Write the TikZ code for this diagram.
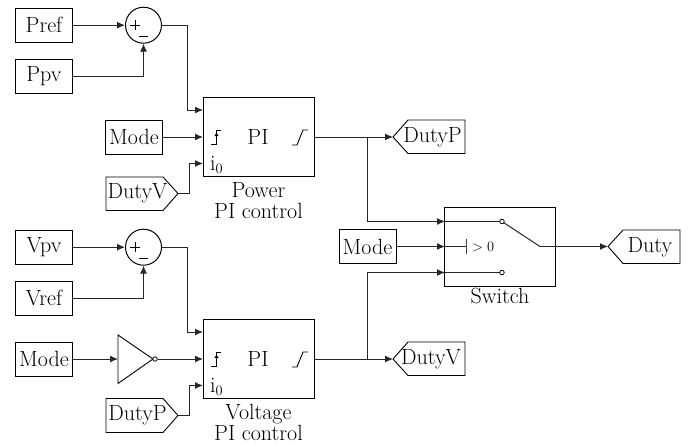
\documentclass[tikz,border=0pt]{standalone}
\usetikzlibrary{arrows.meta}
\tikzset{
  x=1pt,y=-1pt,
  lbl/.style={inner sep=0pt,font=\fontsize{22}{25}\selectfont},
  srcbox/.style={draw,line width=0.9pt,rectangle,minimum width=57pt,minimum height=34pt,inner sep=0pt,font=\fontsize{22}{25}\selectfont},
  block/.style={draw,line width=0.9pt,rectangle,minimum width=111pt,minimum height=79pt,inner sep=0pt},
  sumc/.style={draw,line width=1pt,circle,minimum size=36pt,inner sep=0pt},
  wire/.style={line width=1pt,draw=black!85},
  arr/.style={wire,-{Latex[length=8pt,width=7pt]}},
  icon/.style={line width=0.9pt},
  tag/.style={line width=0.9pt,draw},
  bub/.style={draw,line width=0.8pt,circle,minimum size=4.5pt,inner sep=0pt,fill=white},
}
\begin{document}
\begin{tikzpicture}
\useasboundingbox (0,0) rectangle (688,445);
% --- top
\node[srcbox] (pref) at (44,25.2) {Pref};
\node[srcbox] (ppv) at (44,76.5) {Ppv};
\node[sumc] (s1) at (143.5,25.2) {};
\draw[line width=1pt] (130,25) -- (140,25) (135,20) -- (135,30) (139,36) -- (148,36);
\node[block] (b1) at (258.5,137) {};
\coordinate (b1a) at (203,110);
\coordinate (b1b) at (203,137);
\coordinate (b1c) at (203,163.5);
\coordinate (b1o) at (314,137);
\node[srcbox] (m1) at (134,137) {Mode};
\draw[tag] (106,177) -- (163,177) -- (178,193.5) -- (163,210.5) -- (106,210.5) -- cycle;
\node[lbl] (dv1) at (137.5,193.5) {DutyV};
\coordinate (dv1t) at (178,193.5);
\node[lbl,align=center] (c1) at (258.5,203) {\strut Power\\[-4pt]\strut PI control};
\draw[icon] (211,144.5) -- (216.5,144.5) -- (216.5,130) -- (221,130);
\draw[icon,-{Latex[length=4pt,width=4.5pt]}] (216.5,142) -- (216.5,132);
\node[lbl] (pi1) at (258,137) {PI};
\draw[icon] (292,145) -- (297,145) -- (303,130) -- (308,130);
\node[lbl,anchor=west] (i1) at (210,165) {i$_{0}$};
\coordinate (e1) at (187,25.2);
\draw[arr] (pref) -- (s1);
\draw[arr] (ppv.east) -| (s1.south);
\draw[arr] (s1.east) -- (e1) |- (b1a);
\draw[arr] (m1) -- (b1b);
\draw[arr] (dv1t) -- (189,193.5) |- (b1c);
% outputs
\coordinate (j1) at (367,137);
\coordinate (dp1t) at (393,137);
\draw[tag] (dp1t) -- (408,120) -- (465,120) -- (465,153.5) -- (408,153.5) -- cycle;
\node[lbl] (dp1) at (432.5,137) {DutyP};
\draw[arr] (b1o) -- (dp1t);
% --- switch
\node[block] (sw) at (500,247) {};
\coordinate (swa) at (445,221.5);
\coordinate (swb) at (445,246.5);
\coordinate (swc) at (445,272.5);
\coordinate (cont1) at (502,221.5);
\coordinate (cont2) at (502,272.5);
\coordinate (pole) at (540,246.5);
\coordinate (bar) at (466,246.5);
\node[srcbox] (m3) at (367.5,246.5) {Mode};
\node[lbl] (swl) at (500,298) {\strut Switch};
\draw[arr] (j1) |- (swa);
\draw[wire] (swa) -- (cont1);
\draw[arr] (m3) -- (swb);
\draw[wire] (swb) -- (bar);
\draw[line width=1pt,draw=black!75] (466,239) -- (466,254);
\node[inner sep=0pt,anchor=west,font=\fontsize{15}{17}\selectfont] (gt) at (472,247) {$>0$};
\coordinate (j2) at (367,359);
\draw[arr] (j2) |- (swc);
\draw[wire] (swc) -- (cont2);
\draw[wire] (cont1) -- (pole);
\node[bub] (bu1) at (cont1) {};
\node[bub] (bu2) at (cont2) {};
\coordinate (dt) at (608,246.5);
\draw[tag] (dt) -- (623,230) -- (680,230) -- (680,263.5) -- (623,263.5) -- cycle;
\node[lbl] (d) at (650,247) {Duty};
\draw[arr] (pole) -- (dt);
% --- bottom
\node[srcbox] (vpv) at (44,247.2) {Vpv};
\node[srcbox] (vref) at (44,298) {Vref};
\node[sumc] (s2) at (143.5,247.2) {};
\draw[line width=1pt] (130,247) -- (140,247) (135,242) -- (135,252) (139,258) -- (148,258);
\node[block] (b2) at (258.5,359) {};
\coordinate (b2a) at (203,332);
\coordinate (b2b) at (203,359);
\coordinate (b2c) at (203,385.5);
\coordinate (b2o) at (314,359);
\node[srcbox] (m2) at (44,359) {Mode};
\draw[tag] (118,335) -- (118,383.5) -- (153,359) -- cycle;
\coordinate (nin) at (118,359);
\node[bub] (nb) at (155,359) {};
\draw[tag] (106,398.5) -- (163,398.5) -- (178,415.5) -- (163,432.5) -- (106,432.5) -- cycle;
\node[lbl] (dp2) at (137.5,415.5) {DutyP};
\coordinate (dp2t) at (178,415.5);
\node[lbl,align=center] (c2) at (258.5,425) {\strut Voltage\\[-4pt]\strut PI control};
\draw[icon] (211,366.5) -- (216.5,366.5) -- (216.5,352) -- (221,352);
\draw[icon,-{Latex[length=4pt,width=4.5pt]}] (216.5,364) -- (216.5,354);
\node[lbl] (pi2) at (258,359) {PI};
\draw[icon] (292,367) -- (297,367) -- (303,352) -- (308,352);
\node[lbl,anchor=west] (i2) at (210,387) {i$_{0}$};
\coordinate (e2) at (187,247.2);
\draw[arr] (vpv.east) -- (s2.west);
\draw[arr] (vref.east) -| (s2.south);
\draw[arr] (s2.east) -- (e2) |- (b2a);
\draw[arr] (m2) -- (nin);
\draw[arr] (nb) -- (b2b);
\draw[arr] (dp2t) -- (189,415.5) |- (b2c);
\coordinate (dv2t) at (393,359);
\draw[tag] (dv2t) -- (408,342) -- (465,342) -- (465,375.5) -- (408,375.5) -- cycle;
\node[lbl] (dv2) at (431,359) {DutyV};
\draw[arr] (b2o) -- (dv2t);
\end{tikzpicture}
\end{document}
